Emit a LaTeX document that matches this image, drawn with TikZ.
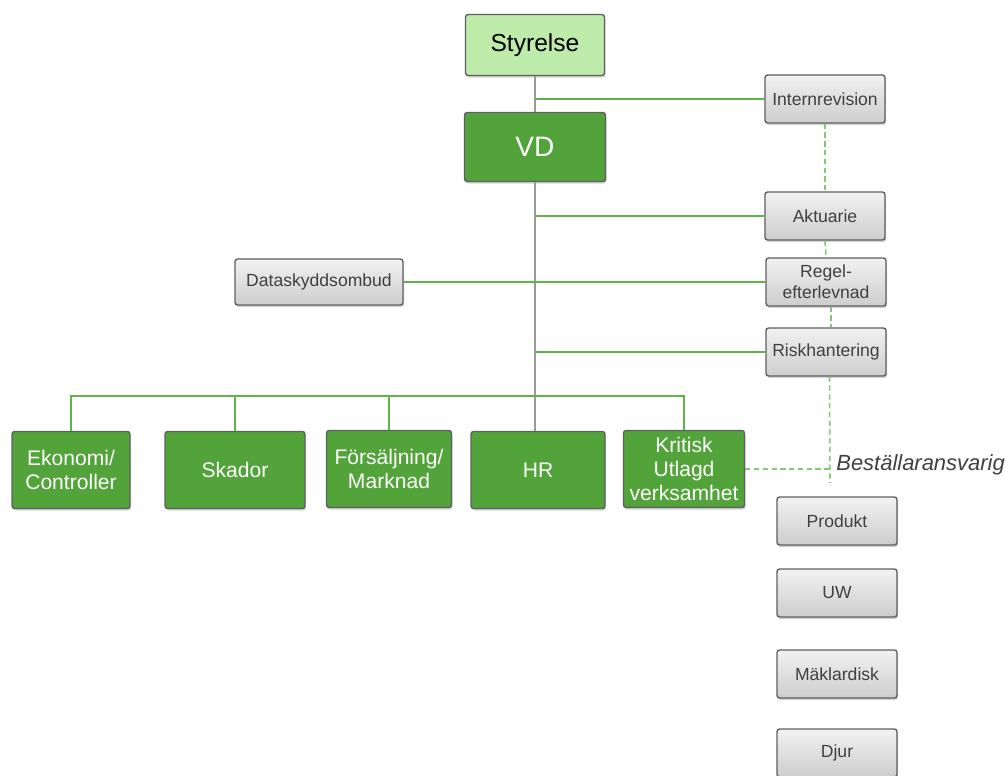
\documentclass[tikz,border=0pt]{standalone}
\usepackage{fontspec}
\setmainfont{Liberation Sans}
\usetikzlibrary{shadows}

\definecolor{vdgreen}{HTML}{52A43A}
\definecolor{palegreen}{HTML}{BDEBAA}
\definecolor{linegreen}{HTML}{5DB548}
\definecolor{dashgreen}{HTML}{86C876}
\definecolor{boxgray}{HTML}{E4E4E4}
\definecolor{edgegray}{HTML}{5F5F5F}
\definecolor{txtgray}{HTML}{404040}

\tikzset{
  orgbox/.style={draw=edgegray, line width=0.8pt, rounded corners=1.5pt, align=center, inner sep=1pt,
    drop shadow={shadow xshift=0.6pt, shadow yshift=-1.2pt, opacity=0.35}},
  topbox/.style={orgbox, fill=palegreen, text=black, font=\fontsize{14}{16}\selectfont,
    minimum width=2.78cm, minimum height=1.22cm},
  vdbox/.style={orgbox, fill=vdgreen, text=white, font=\fontsize{16}{18}\selectfont,
    minimum width=2.82cm, minimum height=1.38cm},
  unitbox/.style={orgbox, fill=vdgreen, text=white, font=\fontsize{12}{13.5}\selectfont,
    minimum height=1.54cm},
  staffbox/.style={orgbox, top color=boxgray!50!white, bottom color=boxgray!90!black, text=txtgray,
    font=\fontsize{10}{12}\selectfont, minimum width=2.4cm, minimum height=0.96cm},
  greenline/.style={draw=linegreen, line width=0.8pt},
  grayline/.style={draw=gray!80, line width=0.8pt},
  dashline/.style={draw=dashgreen, line width=0.9pt, dash pattern=on 3pt off 2pt}
}

\begin{document}
\begin{tikzpicture}[x=0.02cm, y=-0.02cm]
    \useasboundingbox (0,0) rectangle (1005,776);

    % ---------- top: board and CEO ----------
    \node[topbox] (sty) at (535,45) {Styrelse};
    \node[vdbox] (vd) at (535,147) {VD};

    % ---------- staff functions (right) ----------
    \node[staffbox] (intrev) at (825,99) {Internrevision};
    \node[staffbox] (akt) at (825,216) {Aktuarie};
    \node[staffbox] (reg) at (826,282) {Regel-\\efterlevnad};
    \node[staffbox] (risk) at (826,352) {Riskhantering};
    \node[staffbox, minimum width=3.36cm, minimum height=0.92cm] (dso) at (319,282) {Dataskyddsombud};

    % ---------- units (bottom row) ----------
    \node[unitbox, minimum width=2.36cm] (eko) at (71,470) {Ekonomi/\\Controller};
    \node[unitbox, minimum width=2.8cm] (ska) at (235,470) {Skador};
    \node[unitbox, minimum width=2.5cm] (fors) at (389,469) {Försäljning/\\Marknad};
    \node[unitbox, minimum width=2.68cm] (hr) at (538,470) {HR};
    \node[unitbox, minimum width=2.42cm] (kri) at (684,469) {Kritisk\\Utlagd\\verksamhet};

    % ---------- outsourced functions ----------
    \node[staffbox] (prod) at (837,521) {Produkt};
    \node[staffbox] (uw) at (837,593) {UW};
    \node[staffbox] (mak) at (837,674) {Mäklardisk};
    \node[staffbox] (djur) at (837,753) {Djur};

    \coordinate (bus) at (0,396);
    \coordinate (bestend) at (830,483);
    \node[anchor=west, font=\itshape\fontsize{12.5}{14}\selectfont, text=txtgray, inner sep=0pt] (best) at (836,465) {Beställaransvarig};

    % solid lines
    \draw[grayline] (sty.south) -- (vd.north);
    \draw[greenline] (sty.south |- intrev.west) -- (intrev.west);
    \draw[grayline] (vd.south) -- (vd.south |- hr.north);
    \draw[greenline] (vd.south |- akt.west) -- (akt.west);
    \draw[greenline] (dso.east) -- (reg.west);
    \draw[greenline] (vd.south |- risk.west) -- (risk.west);
    \draw[greenline] (eko.north) -- (eko.north |- bus) -- (kri.north |- bus) -- (kri.north);
    \draw[greenline] (ska.north |- bus) -- (ska.north);
    \draw[greenline] (fors.north |- bus) -- (fors.north);

    % dashed lines
    \draw[dashline] (intrev.south) -- (akt.north);
    \draw[dashline] (akt.south) -- (reg.north);
    \draw[dashline] ([xshift=3pt]reg.south) -- ([xshift=3pt]risk.north);
    \draw[dashline] ([xshift=2pt]risk.south) -- (bestend);
    \draw[dashline] (kri.east) -- (kri.east -| bestend);
\end{tikzpicture}
\end{document}
